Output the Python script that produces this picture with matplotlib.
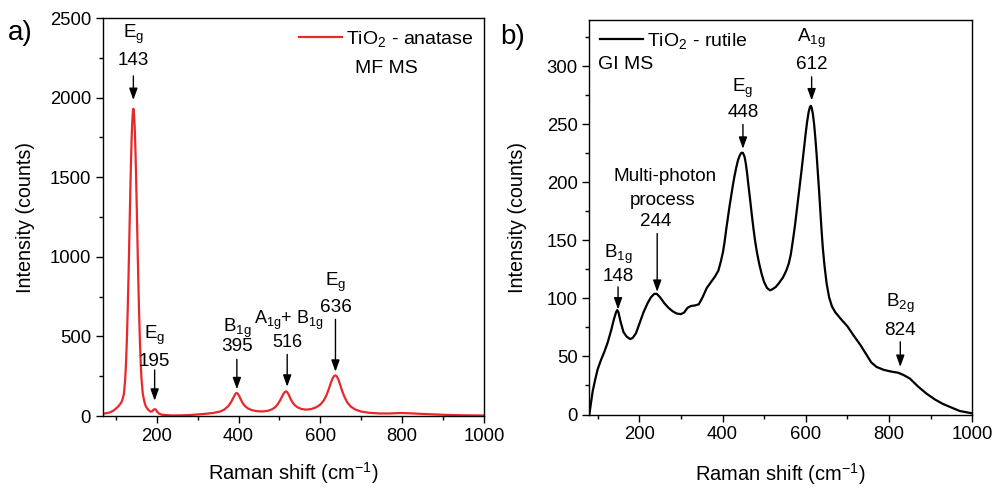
import matplotlib

matplotlib.use("Agg")
import matplotlib.pyplot as plt
from matplotlib.ticker import MultipleLocator

plt.rcParams.update({
    "font.family": ["Liberation Sans", "DejaVu Sans"],
    "font.size": 13,
    "mathtext.fontset": "custom",
    "mathtext.rm": "Liberation Sans",
    "mathtext.it": "Liberation Sans:italic",
    "mathtext.default": "regular",
})

# a) anatase spectrum (read off the picture)
shift_a = [67, 75, 85, 95, 104, 110, 114, 117, 120, 123, 125, 127, 129, 131, 133, 134,
           135, 136, 137, 138, 139, 140, 141, 142, 143, 144, 145, 146, 147, 148, 149,
           150, 151, 152, 153, 155, 157, 159, 161, 163, 166, 169, 172, 176, 180, 185,
           189, 192, 195, 198, 201, 206, 212, 220, 235, 255, 280, 300, 320, 340, 355,
           365, 375, 382, 388, 392, 395, 398, 402, 406, 410, 416, 424, 434, 446, 460,
           472, 482, 490, 497, 503, 508, 512, 516, 519, 522, 526, 530, 536, 544, 554,
           566, 578, 590, 600, 608, 615, 621, 626, 630, 634, 637, 640, 644, 648, 653,
           659, 666, 675, 686, 700, 720, 745, 770, 795, 820, 850, 880, 910, 940, 970,
           1000]
counts_a = [14, 17, 22, 35, 55, 72, 88, 110, 140, 230, 330, 470, 650, 860, 1100, 1225,
            1345, 1465, 1575, 1675, 1760, 1830, 1880, 1915, 1930, 1915, 1880, 1830,
            1760, 1675, 1575, 1465, 1345, 1225, 1100, 860, 650, 470, 330, 230, 140, 100,
            70, 50, 38, 27, 30, 38, 43, 40, 27, 15, 9, 6, 4, 4, 6, 10, 14, 20, 28,
            40, 62, 88, 118, 138, 145, 141, 124, 102, 82, 62, 46, 36, 30, 29,
            33, 42, 56, 78, 105, 130, 148, 155, 150, 138, 115, 94, 72, 55, 44,
            40, 44, 55, 72, 96, 130, 172, 210, 237, 252, 255, 250, 230, 200, 160,
            120, 85, 58, 40, 28, 20, 16, 16, 19, 17, 13, 10, 7, 5, 4,
            3]

# b) rutile spectrum (read off the picture)
shift_b = [80, 84, 88, 94, 100, 108, 116, 124, 132, 139, 144, 147, 150, 155, 162, 170,
           178, 184, 192, 200, 210, 220, 228, 236, 242, 250, 260, 270, 280, 290, 300,
           308, 316, 324, 334, 343, 352, 362, 372, 382, 390, 396, 401, 405, 409, 413,
           417, 421, 425, 429, 433, 437, 441, 445, 449, 453, 456, 459, 462, 466, 470,
           474, 478, 483, 488, 494, 500, 507, 514, 520, 528, 535, 545, 553, 559, 564,
           569, 574, 579, 584, 589, 594, 599, 603, 607, 610, 612, 614, 617, 620, 623,
           626, 629, 632, 635, 638, 641, 645, 650, 656, 663, 671, 685, 700, 715, 731,
           745, 757, 770, 787, 805, 822, 835, 850, 870, 890, 910, 930, 950, 970, 985,
           1000]
counts_b = [0, 10, 20, 30, 39, 47, 54, 62, 72, 82, 88, 90, 88, 80, 71, 67,
            65, 66, 70, 78, 88, 96, 101, 104, 104, 101, 96, 92, 89, 87, 86.5,
            88, 92, 93.5, 94, 95, 101, 109, 114, 119, 124, 132, 140, 149, 160, 170,
            180, 189, 198, 206, 213, 219, 223, 225.5, 225.5, 222, 216, 208, 198, 186, 173,
            161, 150, 139, 130, 121, 114, 109, 107, 108, 110, 113, 118, 124, 130, 138,
            150, 163, 178, 193, 208, 224, 240, 252, 261, 265, 266, 264.5, 259, 250, 238,
            224, 208, 192, 175, 158, 143, 128, 113, 101, 93, 88, 82, 76, 68, 60,
            52, 45, 41, 38.5, 37, 36, 34, 31, 24, 18, 13, 9, 6, 3, 2,
            1]

fig = plt.figure(figsize=(9.95, 4.88), dpi=100)
ax1 = fig.add_axes([0.1032, 0.1475, 0.3832, 0.8156])
ax2 = fig.add_axes([0.5923, 0.1506, 0.3849, 0.8084])

ax1.plot(shift_a, counts_a, color="#e8282b", lw=1.6, label="TiO$_2$ - anatase")
ax2.plot(shift_b, counts_b, color="black", lw=1.6, label="TiO$_2$ - rutile")

ax1.set_xlim(68, 1000)
ax1.set_ylim(0, 2500)
ax1.yaxis.set_major_locator(MultipleLocator(500))
ax1.yaxis.set_minor_locator(MultipleLocator(250))
ax2.set_xlim(80, 1000)
ax2.set_ylim(0, 340)
ax2.yaxis.set_major_locator(MultipleLocator(50))
ax2.yaxis.set_minor_locator(MultipleLocator(25))

for ax in (ax1, ax2):
    ax.xaxis.set_major_locator(MultipleLocator(200))
    ax.xaxis.set_minor_locator(MultipleLocator(100))
    ax.tick_params(which="major", direction="out", length=5, width=1, labelsize=13.3)
    ax.tick_params(which="minor", direction="out", length=3, width=1)
    ax.tick_params(top=False, right=False, which="both")
    for s in ax.spines.values():
        s.set_linewidth(1)
    ax.set_xlabel("Raman shift (cm$^{-1}$)", fontsize=14.5)
    ax.set_ylabel("Intensity (counts)", fontsize=14.2)

ax1.xaxis.set_label_coords(0.5, -0.112)
ax2.xaxis.set_label_coords(0.5, -0.119)
ax1.yaxis.set_label_coords(-0.178, 0.5)
ax2.yaxis.set_label_coords(-0.162, 0.5)

ax1.legend(loc="upper right", frameon=False, fontsize=14, handlelength=2.2,
           handletextpad=0.2, borderaxespad=0.15)
ax2.legend(loc="upper left", frameon=False, fontsize=14, handlelength=2.2,
           handletextpad=0.2, borderaxespad=0.15)
ax1.text(0.662, 0.874, "MF MS", transform=ax1.transAxes, fontsize=14, va="center")
ax2.text(0.023, 0.886, "GI MS", transform=ax2.transAxes, fontsize=14, va="center")

arrow = dict(arrowstyle="-|>,head_length=0.7,head_width=0.25", color="black", lw=1,
             shrinkA=0, shrinkB=0, mutation_scale=10)


def mark(ax, x, lines, tail, tip, size=13.6):
    for txt, ty, tx in lines:
        ax.text(x if tx is None else tx, ty, txt, ha="center", va="center", fontsize=size)
    ax.annotate("", xy=(x, tip), xytext=(x, tail), arrowprops=arrow)


mark(ax1, 143, [("E$_g$", 2400, None), ("143", 2236, None)], 2136, 1985)
mark(ax1, 195, [("E$_g$", 505, None), ("195", 341, None)], 289, 96)
mark(ax1, 396, [("B$_{1g}$", 550, None), ("395", 435, None)], 356, 168)
mark(ax1, 519, [("A$_{1g}$+ B$_{1g}$", 600, 523), ("516", 460, None)], 387, 184, 13.0)
mark(ax1, 637, [("E$_g$", 840, None), ("636", 680, None)], 607, 278)

mark(ax2, 149, [("B$_{1g}$", 138, None), ("148", 118.6, None)], 110, 90.5)
mark(ax2, 243, [("Multi-photon", 204.7, 263), ("process", 184.6, 257), ("244", 166, 239)],
     156, 105.7)
mark(ax2, 449, [("E$_g$", 281, None), ("448", 260.6, None)], 250, 229)
mark(ax2, 614, [("A$_{1g}$", 324, None), ("612", 302, None)], 291, 270.7)
mark(ax2, 827, [("B$_{2g}$", 96, None), ("824", 72.7, None)], 62.7, 41)

fig.text(0.008, 0.932, "a)", fontsize=20, va="center")
fig.text(0.503, 0.925, "b)", fontsize=20, va="center")

fig.savefig("out.png", dpi=100)
